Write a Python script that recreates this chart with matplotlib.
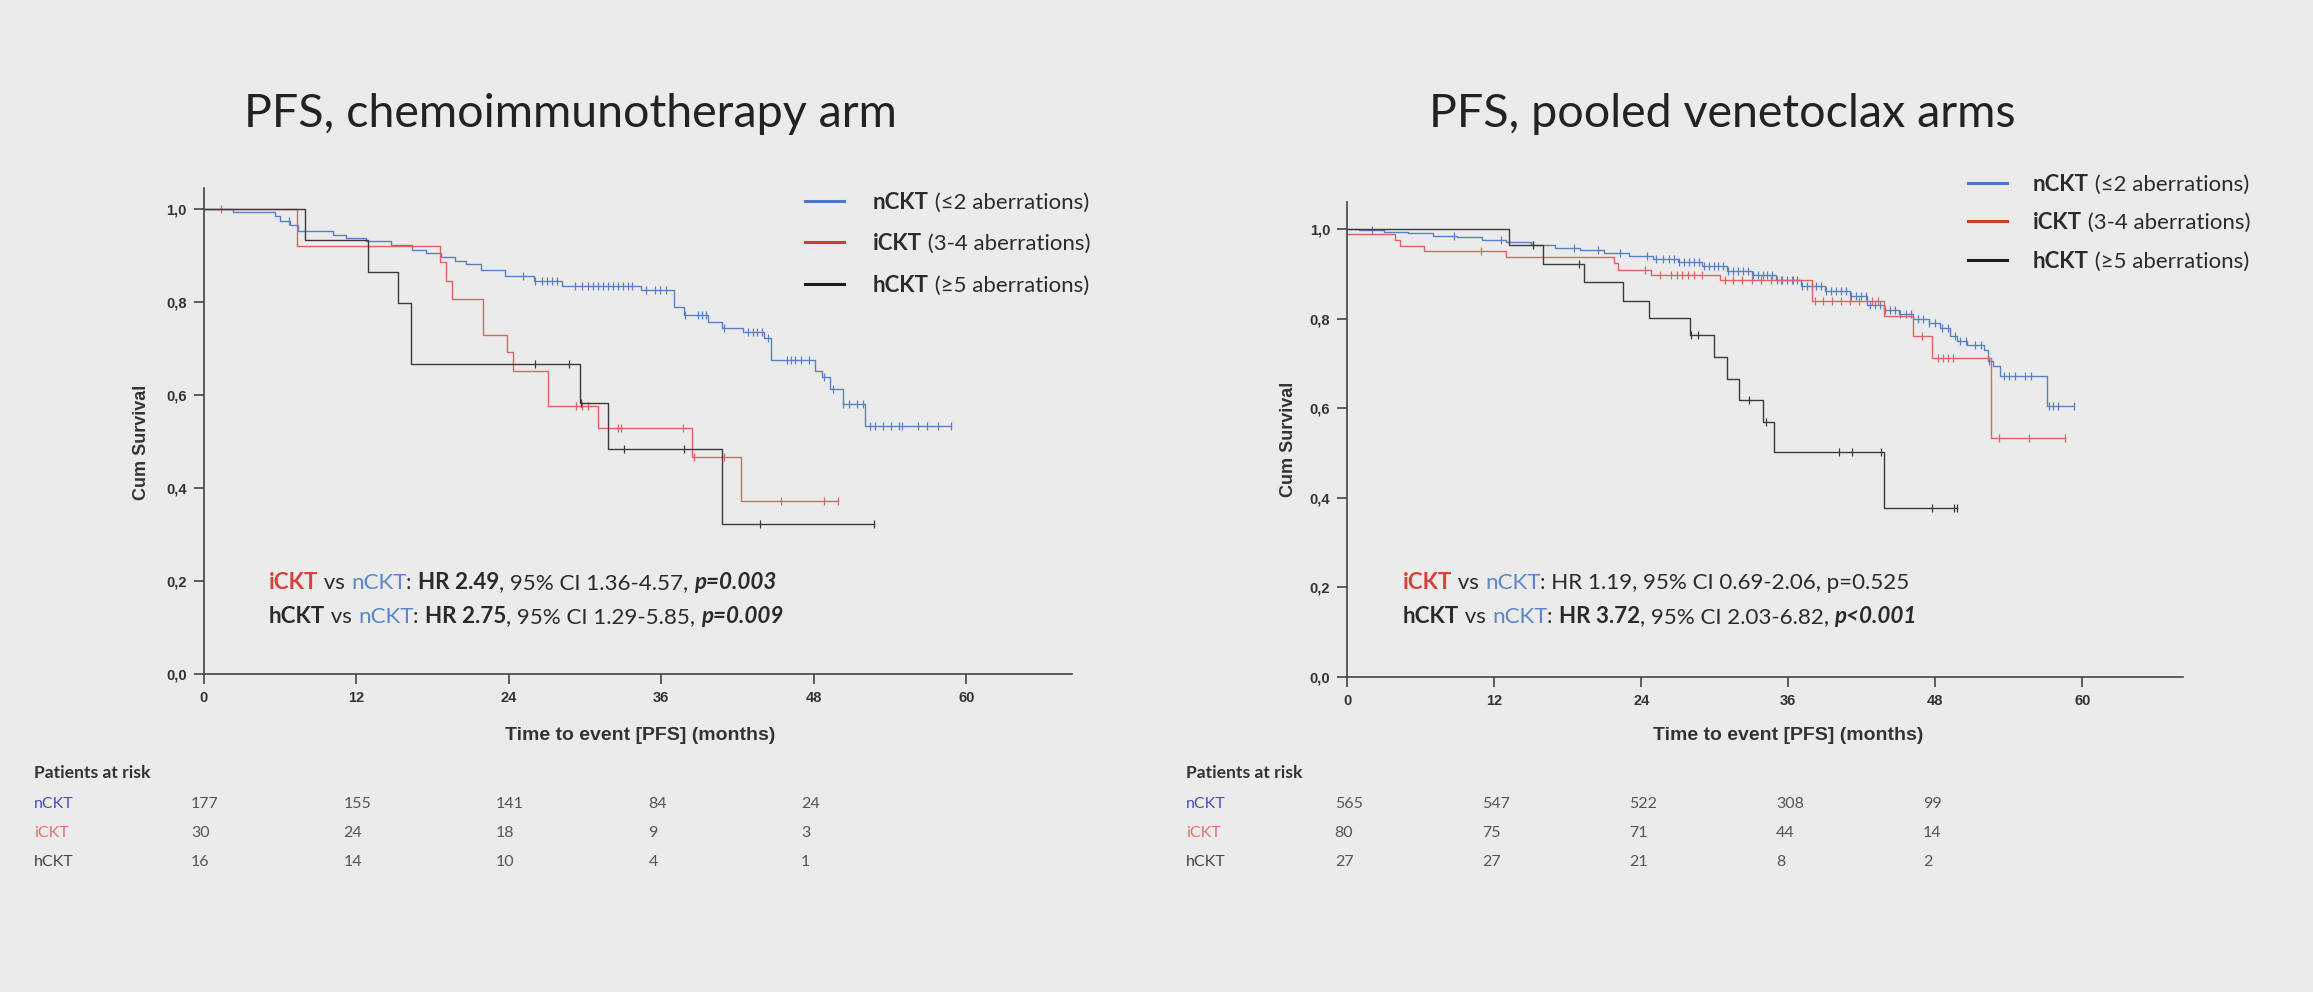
import matplotlib
matplotlib.use('Agg')
import numpy as np
import matplotlib.pyplot as plt
from matplotlib.lines import Line2D
from matplotlib import transforms

# ---------------- data ----------------
# Left: chemoimmunotherapy arm (step times in months, survival after the step)
chemo_n_t = [0, 2.3, 5.6, 6.0, 6.8, 7.4, 10.2, 11.2, 12.8, 14.7, 16.4, 17.5, 18.7, 19.8, 20.6, 21.8,
             23.7, 26.0, 28.2, 34.4, 37.0, 37.8, 39.7, 40.8, 42.4, 44.1, 44.6, 48.1, 48.6, 49.3, 50.3, 52.0]
chemo_n_s = [1.0, 0.994, 0.985, 0.975, 0.965, 0.952, 0.945, 0.937, 0.932, 0.922, 0.912, 0.906, 0.896, 0.889,
             0.882, 0.868, 0.855, 0.845, 0.835, 0.825, 0.79, 0.772, 0.757, 0.745, 0.735, 0.722, 0.675, 0.652,
             0.638, 0.612, 0.58, 0.534]
chemo_n_end = 58.8
chemo_n_cens = [6.7, 25.1, 26.1, 26.6, 27.0, 27.4, 27.8, 29.2, 29.8, 30.2, 30.6, 31.0, 31.4, 31.8, 32.2, 32.6,
                33.0, 33.4, 33.7, 34.8, 35.5, 35.9, 36.4, 37.9, 38.9, 39.2, 39.5, 40.9, 42.8, 43.2, 43.5, 43.9,
                44.4, 45.9, 46.2, 46.5, 47.0, 47.6, 48.8, 49.5, 50.3, 50.8, 51.4, 51.9, 52.4, 52.8, 53.4, 54.1,
                54.7, 54.9, 56.2, 56.9, 57.8, 58.8]

chemo_i_t = [0, 7.35, 18.6, 19.1, 19.5, 22.0, 23.9, 24.3, 27.1, 31.0, 38.4, 42.3]
chemo_i_s = [1.0, 0.921, 0.885, 0.846, 0.806, 0.729, 0.692, 0.652, 0.577, 0.53, 0.466, 0.371]
chemo_i_end = 49.9
chemo_i_cens = [1.4, 29.3, 29.8, 30.2, 32.6, 32.8, 37.7, 38.6, 40.9, 45.4, 48.8, 49.9]

chemo_h_t = [0, 7.95, 12.9, 15.3, 16.3, 29.6, 31.8, 40.8]
chemo_h_s = [1.0, 0.933, 0.865, 0.797, 0.667, 0.583, 0.484, 0.323]
chemo_h_end = 52.7
chemo_h_cens = [26.1, 28.7, 29.7, 33.1, 37.8, 43.8, 52.7]

# Right: pooled venetoclax arms
ven_n_t = [0, 1, 3, 5, 7, 9, 11, 13, 15, 17, 19, 21, 23, 25, 27, 29, 31, 33, 35, 37, 39, 41, 42.4, 43.8,
           45.0, 46.2, 47.5, 48.4, 49.2, 49.8, 50.6, 52.0, 52.3, 52.7, 53.3, 57.1]
ven_n_s = [1.0, 0.997, 0.993, 0.99, 0.985, 0.981, 0.976, 0.970, 0.963, 0.957, 0.952, 0.946, 0.94, 0.933,
           0.925, 0.917, 0.906, 0.896, 0.886, 0.873, 0.862, 0.851, 0.83, 0.82, 0.81, 0.80, 0.79, 0.778, 0.76,
           0.75, 0.74, 0.73, 0.705, 0.695, 0.672, 0.605]
ven_n_end = 59.3
ven_n_cens = [2.0, 8.7, 12.6, 15.2, 18.5, 20.5, 22.3, 24.5, 25.2, 25.8, 26.3, 26.7, 27.1, 27.5, 27.9, 28.3,
              28.7, 29.1, 29.5, 29.9, 30.3, 30.7, 31.1, 31.5, 31.9, 32.3, 32.7, 33.1, 33.5, 33.9, 34.3, 34.7,
              35.1, 35.5, 35.9, 36.3, 36.7, 37.1, 37.5, 37.9, 38.3, 38.7, 39.1, 39.5, 39.9, 40.3, 40.7, 41.1,
              41.5, 41.9, 42.3, 42.7, 43.1, 43.5, 43.9, 44.3, 44.7, 45.1, 45.6, 46.0, 46.6, 47.0, 47.5, 48.0,
              48.5, 49.0, 49.6, 50.0, 50.5, 51.2, 51.7, 52.4, 53.6, 54.0, 54.5, 55.3, 55.8, 57.3, 57.6, 58.0,
              59.3]

ven_i_t = [0, 3.9, 4.3, 6.3, 13.0, 21.8, 22.1, 24.8, 30.4, 37.9, 43.8, 46.2, 47.7, 52.5]
ven_i_s = [0.988, 0.975, 0.962, 0.95, 0.938, 0.924, 0.909, 0.897, 0.885, 0.84, 0.805, 0.76, 0.712, 0.533]
ven_i_end = 58.6
ven_i_cens = [10.9, 24.3, 25.5, 26.4, 26.9, 27.3, 27.8, 28.3, 29.0, 30.8, 31.5, 32.2, 33.0, 33.8, 34.6, 35.4,
              36.4, 38.2, 38.8, 39.6, 40.3, 41.0, 41.8, 42.8, 43.3, 46.9, 48.2, 48.6, 49.0, 49.4, 53.2, 55.6,
              58.6]

ven_h_t = [0, 13.2, 16.0, 19.3, 22.5, 24.6, 28.0, 29.9, 31.0, 32.0, 33.9, 34.8, 43.8]
ven_h_s = [1.0, 0.963, 0.922, 0.881, 0.84, 0.801, 0.763, 0.714, 0.666, 0.618, 0.570, 0.503, 0.377]
ven_h_end = 49.8
ven_h_cens = [15.2, 18.9, 28.1, 28.6, 32.8, 34.2, 40.1, 41.2, 43.6, 47.7, 49.5, 49.8]

groups = ['nCKT', 'iCKT', 'hCKT']
legend_desc = ['(≤2 aberrations)', '(3-4 aberrations)', '(≥5 aberrations)']
risk_months = [0, 12, 24, 36, 48]
chemo_risk = [[177, 155, 141, 84, 24], [30, 24, 18, 9, 3], [16, 14, 10, 4, 1]]
ven_risk = [[565, 547, 522, 308, 99], [80, 75, 71, 44, 14], [27, 27, 21, 8, 2]]

# ---------------- styling ----------------
W, H = 2313, 992
BG = '#ebebeb'
TXT = '#2b2b2b'
line_col = {'nCKT': '#5a80c4', 'iCKT': '#e06262', 'hCKT': '#3a3a3a'}
leg_col = {'nCKT': '#4a78c6', 'iCKT': '#c9402f', 'hCKT': '#1e1e1e'}
lab_col = {'nCKT': '#5b86c9', 'iCKT': '#d9413a', 'hCKT': '#2b2b2b'}
tab_col = {'nCKT': '#4b4bbf', 'iCKT': '#e8706a', 'hCKT': '#444444'}
SANS = ['Lato', 'DejaVu Sans']
ARIAL = ['Liberation Sans', 'DejaVu Sans']

fig = plt.figure(figsize=(W / 100, H / 100), dpi=100, facecolor=BG)
renderer = fig.canvas.get_renderer()


def seg_width(s, size, weight, style):
    a = fig.text(0, 0, '|' + s + '|', fontsize=size, fontweight=weight, fontstyle=style, family=SANS)
    b = fig.text(0, 0, '||', fontsize=size, fontweight=weight, fontstyle=style, family=SANS)
    w = a.get_window_extent(renderer).width - b.get_window_extent(renderer).width
    a.remove()
    b.remove()
    return w


def ptext(x, y, parts, size):
    # parts: (text, color, weight, style); x, y in pixels from the top-left
    for s, c, w, st in parts:
        fig.text(x / W, 1 - y / H, s, color=c, fontsize=size, fontweight=w, fontstyle=st,
                 family=SANS, va='baseline')
        x += seg_width(s, size, w, st)


def km_panel(rect, xmax, ymax, curves):
    ax = fig.add_axes(rect)
    ax.set_facecolor('none')
    for g, t, s, end, cens in curves:
        tt = list(t) + [end]
        ss = list(s) + [s[-1]]
        ax.step(tt, ss, where='post', color=line_col[g], lw=1.0)
        idx = np.searchsorted(t, cens, side='right') - 1
        ax.plot(cens, np.array(s)[idx], ls='none', marker='|', ms=6, mew=0.9, color=line_col[g])
    ax.set_xlim(0, xmax)
    ax.set_ylim(0, ymax)
    ax.spines[['top', 'right']].set_visible(False)
    for sp in ['left', 'bottom']:
        ax.spines[sp].set_color('#444444')
        ax.spines[sp].set_linewidth(1.2)
    ax.set_xticks([0, 12, 24, 36, 48, 60])
    yt = np.arange(0, 1.01, 0.2)
    ax.set_yticks(yt)
    ax.set_yticklabels([f'{v:.1f}'.replace('.', ',') for v in yt])
    ax.tick_params(direction='out', length=7, width=1.2, color='#444444', labelsize=10.5,
                   labelcolor='#333333', pad=5)
    for lbl in ax.get_xticklabels() + ax.get_yticklabels():
        lbl.set_fontweight('bold')
        lbl.set_family(ARIAL)
    ax.set_xlabel('Time to event [PFS] (months)', fontsize=14, fontweight='bold', family=ARIAL,
                  color='#333333')
    ax.set_ylabel('Cum Survival', fontsize=13, fontweight='bold', family=ARIAL, color='#333333')
    return ax


def risk_table(ax, x_lab, values):
    ptext(x_lab, 778, [('Patients at risk', '#333333', 'bold', 'normal')], 12.6)
    tr = transforms.blended_transform_factory(ax.transData, fig.transFigure)
    for i, g in enumerate(groups):
        y = 808 + 29 * i
        fig.text(x_lab / W, 1 - y / H, g, color=tab_col[g], fontsize=11.5, family=SANS, va='baseline')
        for m, v in zip(risk_months, values[i]):
            ax.text(m - 1.0, 1 - y / H, str(v), transform=tr, color='#555555', fontsize=11.5,
                    family=SANS, va='baseline', ha='left')


def legend(x_line, x_text, ys):
    for g, d, y in zip(groups, legend_desc, ys):
        fig.add_artist(Line2D([x_line / W, (x_line + 39) / W], [1 - y / H, 1 - y / H],
                              color=leg_col[g], lw=2.2))
        ptext(x_text, y + 8, [(g, TXT, 'bold', 'normal'), (' ' + d, TXT, 'normal', 'normal')], 16)


# ---------------- left panel ----------------
axL = km_panel([203.6 / W, (992 - 674) / H, (1072 - 203.6) / W, (674 - 188.5) / H], 68.3, 1.044, [
    ('nCKT', chemo_n_t, chemo_n_s, chemo_n_end, chemo_n_cens),
    ('iCKT', chemo_i_t, chemo_i_s, chemo_i_end, chemo_i_cens),
    ('hCKT', chemo_h_t, chemo_h_s, chemo_h_end, chemo_h_cens),
])
axL.xaxis.set_label_coords(0.5025, -0.109)
axL.yaxis.set_label_coords(-0.062, 0.478)
fig.text(570 / W, 1 - 114 / H, 'PFS, chemoimmunotherapy arm', fontsize=33.6, family=SANS, color='#222222',
         ha='center', va='center')
legend(805, 873, [201, 242, 284])
ptext(269, 589, [('iCKT', lab_col['iCKT'], 'bold', 'normal'), (' vs ', TXT, 'normal', 'normal'),
                 ('nCKT', lab_col['nCKT'], 'normal', 'normal'), (': ', TXT, 'normal', 'normal'),
                 ('HR 2.49', TXT, 'bold', 'normal'), (', 95% CI 1.36-4.57, ', TXT, 'normal', 'normal'),
                 ('p=0.003', TXT, 'bold', 'italic')], 16.1)
ptext(269, 623, [('hCKT', TXT, 'bold', 'normal'), (' vs ', TXT, 'normal', 'normal'),
                 ('nCKT', lab_col['nCKT'], 'normal', 'normal'), (': ', TXT, 'normal', 'normal'),
                 ('HR 2.75', TXT, 'bold', 'normal'), (', 95% CI 1.29-5.85, ', TXT, 'normal', 'normal'),
                 ('p=0.009', TXT, 'bold', 'italic')], 16.1)
risk_table(axL, 34, chemo_risk)

# ---------------- right panel ----------------
axR = km_panel([1347 / W, (992 - 677) / H, (2183 - 1347) / W, (677 - 202) / H], 68.2, 1.06, [
    ('nCKT', ven_n_t, ven_n_s, ven_n_end, ven_n_cens),
    ('iCKT', ven_i_t, ven_i_s, ven_i_end, ven_i_cens),
    ('hCKT', ven_h_t, ven_h_s, ven_h_end, ven_h_cens),
])
axR.xaxis.set_label_coords(0.5275, -0.105)
axR.yaxis.set_label_coords(-0.060, 0.5)
fig.text(1722 / W, 1 - 114 / H, 'PFS, pooled venetoclax arms', fontsize=33.6, family=SANS, color='#222222',
         ha='center', va='center')
legend(1968, 2033, [183, 221, 260])
ptext(1403, 589, [('iCKT', lab_col['iCKT'], 'bold', 'normal'), (' vs ', TXT, 'normal', 'normal'),
                  ('nCKT', lab_col['nCKT'], 'normal', 'normal'),
                  (': HR 1.19, 95% CI 0.69-2.06, p=0.525', TXT, 'normal', 'normal')], 16.1)
ptext(1403, 623, [('hCKT', TXT, 'bold', 'normal'), (' vs ', TXT, 'normal', 'normal'),
                  ('nCKT', lab_col['nCKT'], 'normal', 'normal'), (': ', TXT, 'normal', 'normal'),
                  ('HR 3.72', TXT, 'bold', 'normal'), (', 95% CI 2.03-6.82, ', TXT, 'normal', 'normal'),
                  ('p<0.001', TXT, 'bold', 'italic')], 16.1)
risk_table(axR, 1186, ven_risk)

fig.savefig('out.png', dpi=100, facecolor=BG)
